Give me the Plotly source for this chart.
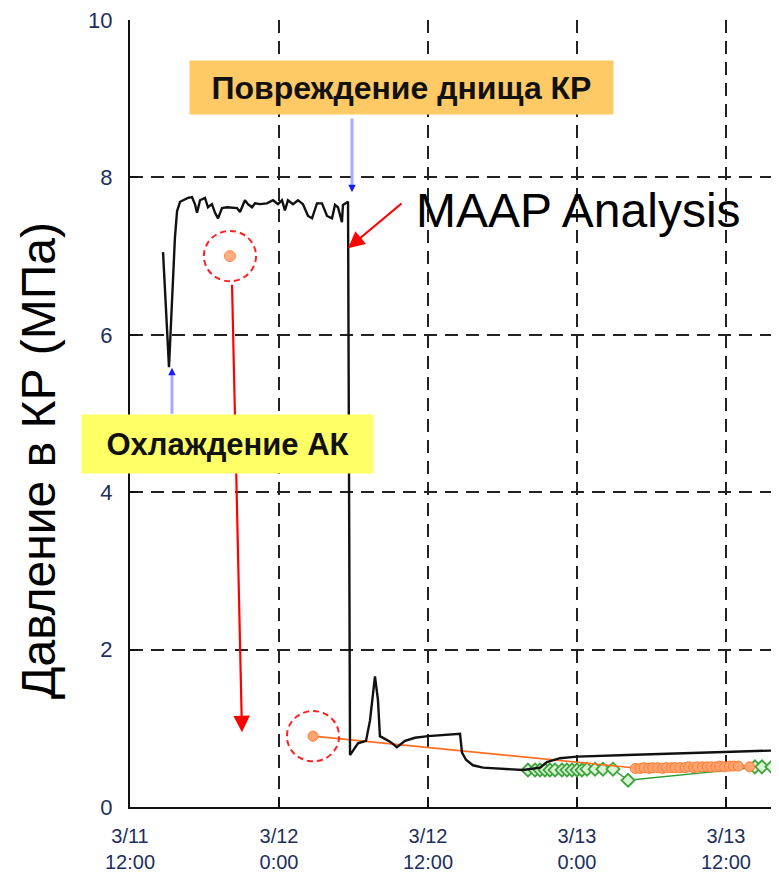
import plotly.graph_objects as go
import pandas as pd

BASE = pd.Timestamp("2011-03-11 12:00")


def to_dt(h):
    return BASE + pd.to_timedelta(h, unit="h")


# ---------------- data (hours after 3/11 12:00, pressure MPa) ----------------
maap_hours = [2.66, 3.14, 3.62, 3.79, 4.03, 4.67, 4.99, 5.23, 5.40, 5.64, 6.04, 6.28,
              6.60, 6.85, 7.09, 7.41, 7.81, 8.62, 8.86, 9.26, 9.50, 9.83, 10.07,
              10.47, 11.03, 11.52, 11.92, 12.24, 12.48, 12.72, 13.13, 13.53, 13.93,
              14.34, 14.66, 15.06, 15.46, 15.87, 16.27, 16.51, 16.75, 17.07, 17.15,
              17.48, 17.56, 17.72, 18.36, 19.01, 19.33, 19.73, 19.97, 20.13, 20.94,
              21.50, 22.15, 22.95, 24.00, 26.58, 26.74, 27.06, 27.62, 28.43, 31.65,
              33.02, 33.58, 34.63, 36.00, 40.03, 48.08, 52.27]
maap_mpa = [7.05, 5.59, 7.24, 7.57, 7.69, 7.74, 7.75, 7.66, 7.55, 7.71, 7.74, 7.62,
            7.66, 7.55, 7.48, 7.61, 7.62, 7.61, 7.56, 7.71, 7.66, 7.62, 7.67,
            7.66, 7.67, 7.71, 7.66, 7.71, 7.58, 7.71, 7.66, 7.71, 7.66,
            7.51, 7.48, 7.67, 7.67, 7.51, 7.48, 7.65, 7.62, 7.43, 7.65,
            7.69, 7.69, 0.66, 0.81, 0.84, 1.10, 1.66, 1.36, 0.90, 0.83,
            0.76, 0.84, 0.88, 0.90, 0.93, 0.69, 0.60, 0.53, 0.50, 0.47,
            0.50, 0.57, 0.62, 0.64, 0.66, 0.70, 0.72]

# measured RPV pressure (orange)
meas_a_hours = [8.05]
meas_a_mpa = [7.00]
meas_b_hours = [14.74, 40.7, 41.1, 41.4, 41.8, 42.1, 42.5, 42.9, 43.2, 43.6, 43.9,
                44.3, 44.7, 45.0, 45.4, 45.7, 46.1, 46.5, 46.8, 47.2, 47.5, 47.9,
                48.3, 48.6, 49.0, 49.9]
meas_b_mpa = [0.90, 0.49, 0.49, 0.50, 0.49, 0.50, 0.50, 0.49, 0.50, 0.50, 0.50,
              0.50, 0.50, 0.51, 0.50, 0.51, 0.51, 0.51, 0.51, 0.51, 0.52, 0.51,
              0.52, 0.52, 0.52, 0.51]

# second measurement channel (green)
meas_c_hours = [32.05, 32.62, 33.02, 33.42, 33.82, 34.23, 34.79, 35.19, 35.60, 36.00,
                36.40, 36.81, 37.45, 38.09, 38.90, 40.11, 50.33, 50.90, 51.70]
meas_c_mpa = [0.47, 0.47, 0.47, 0.47, 0.47, 0.47, 0.47, 0.47, 0.47, 0.47,
              0.47, 0.48, 0.48, 0.48, 0.48, 0.34, 0.51, 0.51, 0.51]

tick_hours = [0, 12, 24, 36, 48]
tick_text = ["3/11<br>12:00", "3/12<br>0:00", "3/12<br>12:00", "3/13<br>0:00", "3/13<br>12:00"]
y_ticks = [0, 2, 4, 6, 8, 10]
y_grid = [2, 4, 6, 8]
x_max_hours = 52.27

FONT = "Liberation Sans, Arial, sans-serif"
NARROW = "Liberation Sans Narrow, Arial Narrow, Liberation Sans, Arial, sans-serif"
GRID_DASH = "13px,8px"

# the page body adds an 8px offset, so the figure is sized to the remaining area
FIG_W, FIG_H = 771, 864
M_L, M_R, M_T, M_B = 122, 0, 12, 65
PW = FIG_W - M_L - M_R
PH = FIG_H - M_T - M_B


def px(xp):  # page-pixel x -> paper
    return (xp - 8 - M_L) / PW


def py(yp):  # page-pixel y -> paper
    return (FIG_H - M_B - (yp - 8)) / PH


fig = go.Figure()

fig.add_trace(go.Scatter(
    x=[to_dt(h) for h in meas_c_hours], y=meas_c_mpa, mode="lines+markers",
    line=dict(color="#2E9B2E", width=1.3),
    marker=dict(symbol="diamond", size=10, color="#DDF2D5",
                line=dict(color="#3DA53D", width=1.8)),
    showlegend=False, hoverinfo="skip"))

fig.add_trace(go.Scatter(
    x=[to_dt(h) for h in meas_b_hours], y=meas_b_mpa, mode="lines+markers",
    line=dict(color="#FF6E1F", width=1.6),
    marker=dict(symbol="circle", size=10, color="#FFA46E",
                line=dict(color="#FF7A33", width=1)),
    showlegend=False, hoverinfo="skip"))

fig.add_trace(go.Scatter(
    x=[to_dt(h) for h in meas_a_hours], y=meas_a_mpa, mode="markers",
    marker=dict(symbol="circle", size=11, color="#FFAE7F",
                line=dict(color="#FF8A4A", width=1)),
    showlegend=False, hoverinfo="skip"))

# MAAP curve bound to the overlay axis that carries the horizontal grid
fig.add_trace(go.Scatter(
    x=[to_dt(h) for h in maap_hours], y=maap_mpa, mode="lines", yaxis="y2",
    line=dict(color="#111111", width=2.4),
    showlegend=False, hoverinfo="skip"))

# dashed red circles around the two isolated measurements
r_h, r_p = 2.1, 0.32
for h, p in [(meas_a_hours[0], meas_a_mpa[0]), (meas_b_hours[0], meas_b_mpa[0])]:
    fig.add_shape(type="circle", xref="x", yref="y",
                  x0=to_dt(h - r_h), x1=to_dt(h + r_h), y0=p - r_p, y1=p + r_p,
                  line=dict(color="#FF2020", width=2, dash="6px,4px"))

annotations = []
# long red arrow from the first circle down
annotations.append(dict(x=to_dt(9.02), y=0.95, xref="x", yref="y", text="",
                        showarrow=True, ax=-10, ay=-449, arrowhead=2,
                        arrowsize=1.5, arrowwidth=2.2, arrowcolor="#FF0000"))
# red arrow pointing at the MAAP curve
annotations.append(dict(x=to_dt(17.56), y=7.10, xref="x", yref="y", text="",
                        showarrow=True, ax=55, ay=-46, arrowhead=2,
                        arrowsize=1.5, arrowwidth=2.2, arrowcolor="#FF0000"))
# blue arrow (vessel bottom damage)
annotations.append(dict(x=to_dt(17.88), y=7.89, xref="x", yref="y", text="",
                        showarrow=True, ax=0, ay=-69, arrowhead=0,
                        arrowwidth=3, arrowcolor="#A9ABFF"))
annotations.append(dict(x=to_dt(17.88), y=7.81, xref="x", yref="y", text="",
                        showarrow=True, ax=0, ay=-8, arrowhead=2,
                        arrowsize=1, arrowwidth=1.5, arrowcolor="#1A1AFF"))
# blue arrow (core cooling)
annotations.append(dict(x=to_dt(3.38), y=5.50, xref="x", yref="y", text="",
                        showarrow=True, ax=0, ay=41, arrowhead=0,
                        arrowwidth=3, arrowcolor="#A9ABFF"))
annotations.append(dict(x=to_dt(3.38), y=5.58, xref="x", yref="y", text="",
                        showarrow=True, ax=0, ay=8, arrowhead=2,
                        arrowsize=1, arrowwidth=1.5, arrowcolor="#1A1AFF"))

# label boxes
annotations.append(dict(x=px(401), y=py(87), xref="paper", yref="paper",
                        text="<b>Повреждение днища КР</b>", showarrow=False,
                        font=dict(family=FONT, size=32, color="#111111"),
                        bgcolor="#FFCA66", width=423, height=53, borderpad=0,
                        xanchor="center", yanchor="middle"))
annotations.append(dict(x=px(227.5), y=py(444), xref="paper", yref="paper",
                        text="<b>Охлаждение АК</b>", showarrow=False,
                        font=dict(family=FONT, size=31, color="#111111"),
                        bgcolor="#FFFF66", width=291, height=58, borderpad=0,
                        xanchor="center", yanchor="middle"))
annotations.append(dict(x=px(414), y=py(210), xref="paper", yref="paper",
                        text="MAAP Analysis", showarrow=False,
                        font=dict(family=FONT, size=48, color="#000000"),
                        xanchor="left", yanchor="middle"))
# y-axis title
annotations.append(dict(x=px(39), y=py(461), xref="paper", yref="paper",
                        text="Давление в КР (МПа)", showarrow=False, textangle=-90,
                        font=dict(family=FONT, size=48, color="#000000"),
                        xanchor="center", yanchor="middle"))

fig.update_layout(
    width=FIG_W, height=FIG_H,
    margin=dict(l=M_L, r=M_R, t=M_T, b=M_B, autoexpand=False),
    paper_bgcolor="white", plot_bgcolor="white",
    showlegend=False,
    annotations=annotations,
    xaxis=dict(
        type="date", automargin=False,
        range=[to_dt(0), to_dt(x_max_hours)],
        tickmode="array",
        tickvals=[to_dt(h) for h in tick_hours],
        ticktext=tick_text,
        tickfont=dict(family=NARROW, size=20, color="#1C2F5E"),
        ticks="inside", ticklen=8, tickcolor="#111111", tickwidth=1.5,
        showline=True, linecolor="#111111", linewidth=2,
        showgrid=True, gridcolor="#222222", gridwidth=1.5, griddash=GRID_DASH,
        zeroline=False, ticklabelstandoff=10, ticklabeloverflow="allow",
    ),
    yaxis=dict(
        range=[0, 10], automargin=False,
        tickmode="array", tickvals=y_ticks,
        tickfont=dict(family=FONT, size=22, color="#1C2F5E"),
        ticks="inside", ticklen=8, tickcolor="#111111", tickwidth=1.5,
        showline=True, linecolor="#111111", linewidth=2,
        showgrid=False, zeroline=False, ticklabelstandoff=11,
        ticklabeloverflow="allow",
    ),
    yaxis2=dict(
        overlaying="y", range=[0, 10], automargin=False, tickmode="array", tickvals=y_grid,
        showticklabels=False, ticks="", showline=False, zeroline=False,
        showgrid=True, gridcolor="#222222", gridwidth=1.5, griddash=GRID_DASH,
    ),
)

fig.write_html("out.html")
